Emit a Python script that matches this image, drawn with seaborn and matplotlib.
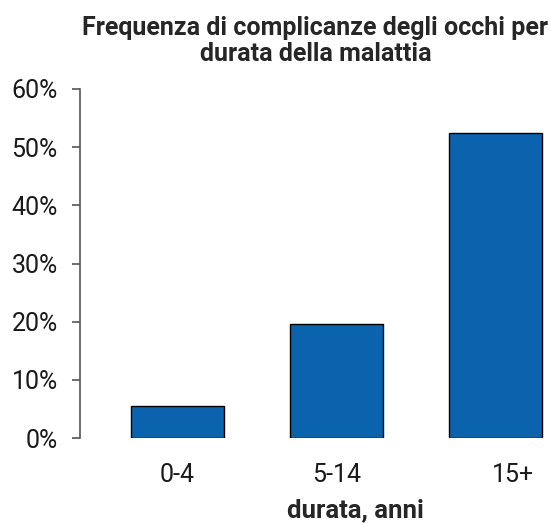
import seaborn as sns
import matplotlib.pyplot as plt
import matplotlib.transforms as mtransforms
import pandas as pd
from matplotlib.ticker import PercentFormatter

# data
durata = ['0-4', '5-14', '15+']
frequenza = [5.5, 19.6, 52.4]

sns.set_theme(style='white')
plt.rcParams['font.family'] = ['Roboto', 'DejaVu Sans']

df = pd.DataFrame({'durata': durata, 'frequenza': frequenza})

fig = plt.figure(figsize=(5.51, 5.23), dpi=100)
ax = fig.add_axes([80 / 551, 1 - 438 / 523, 471 / 551, 349 / 523])

sns.barplot(data=df, x='durata', y='frequenza', order=durata,
            color='#0B63AE', saturation=1, width=0.59,
            edgecolor='black', linewidth=1, ax=ax)

ax.set_xlim(-0.613, 2.349)
ax.set_ylim(0, 60)
ax.set_yticks(range(0, 61, 10))
ax.yaxis.set_major_formatter(PercentFormatter(decimals=0))

for side in ['top', 'right', 'bottom']:
    ax.spines[side].set_visible(False)
ax.spines['left'].set_color('#555555')
ax.spines['left'].set_linewidth(1.2)

ax.tick_params(axis='y', left=True, length=6, width=1.2, color='#555555',
               labelsize=18, pad=10, labelcolor='#1a1a1a')
ax.tick_params(axis='x', bottom=False, labelsize=18, pad=12, labelcolor='#1a1a1a')

# the last category label sits a bit right of its bar in the original
last = ax.get_xticklabels()[-1]
last.set_transform(last.get_transform() +
                   mtransforms.ScaledTranslation(17 / 100, 0, fig.dpi_scale_trans))

ax.set_xlabel('durata, anni', fontsize=18.5, fontweight='bold')
ax.xaxis.set_label_coords(0.584, -0.172)
ax.set_ylabel('')
ax.set_title('Frequenza di complicanze degli occhi per\ndurata della malattia',
             fontsize=18, fontweight='bold', pad=20, linespacing=1.1)

fig.savefig('out.png', dpi=100)
